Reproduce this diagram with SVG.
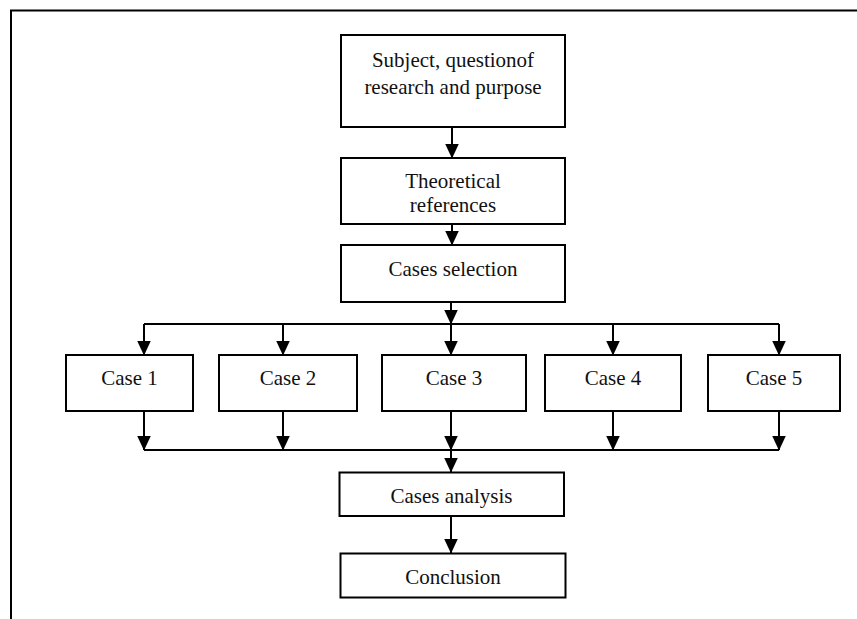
<svg xmlns="http://www.w3.org/2000/svg" width="857" height="619" viewBox="0 0 857 619">
<style>
.box{fill:#fff;stroke:#000;stroke-width:2}
.lbl{font-family:"Liberation Serif","Times New Roman",serif;font-size:21px;fill:#111;text-anchor:middle}
.ln{stroke:#000;stroke-width:2;fill:none}
.ar{stroke:#000;stroke-width:2;fill:none;marker-end:url(#ah)}
</style>
<defs>
<marker id="ah" markerUnits="userSpaceOnUse" markerWidth="15" markerHeight="14" refX="14.5" refY="7" orient="auto" viewBox="0 0 15 14">
<path d="M0,0 L15,7 L0,14 z" fill="#000"/>
</marker>
</defs>
<rect width="857" height="619" fill="#fff"/>
<g id="frame">
<path d="M857,10.5 H11 V619" stroke="#000" stroke-width="2" fill="none"/>
</g>
<g id="connectors">
<line class="ar" x1="452" y1="127" x2="452" y2="158"/>
<line class="ar" x1="452" y1="224" x2="452" y2="245"/>
<line class="ar" x1="451" y1="302" x2="451" y2="324"/>
<line class="ln" x1="144" y1="324" x2="779" y2="324"/>
<line class="ar" x1="144" y1="324" x2="144" y2="355"/>
<line class="ar" x1="283" y1="324" x2="283" y2="355"/>
<line class="ar" x1="451" y1="324" x2="451" y2="355"/>
<line class="ar" x1="613" y1="324" x2="613" y2="355"/>
<line class="ar" x1="779" y1="324" x2="779" y2="355"/>
<line class="ar" x1="144" y1="411" x2="144" y2="450"/>
<line class="ar" x1="283" y1="411" x2="283" y2="450"/>
<line class="ar" x1="451" y1="411" x2="451" y2="450"/>
<line class="ar" x1="613" y1="411" x2="613" y2="450"/>
<line class="ar" x1="779" y1="411" x2="779" y2="450"/>
<line class="ln" x1="144" y1="450" x2="779" y2="450"/>
<line class="ar" x1="451" y1="450" x2="451" y2="472"/>
<line class="ar" x1="451" y1="516" x2="451" y2="553"/>
</g>
<g id="subject">
<rect class="box" x="341" y="35" width="224" height="92"/>
<text class="lbl" x="453" y="67">Subject, questionof</text>
<text class="lbl" x="453" y="94">research and purpose</text>
</g>
<g id="theoretical">
<rect class="box" x="341" y="158" width="224" height="66"/>
<text class="lbl" x="453" y="188">Theoretical</text>
<text class="lbl" x="453" y="212">references</text>
</g>
<g id="selection">
<rect class="box" x="341" y="245" width="224" height="57"/>
<text class="lbl" x="453" y="276">Cases selection</text>
</g>
<g id="case1">
<rect class="box" x="66" y="355" width="127" height="56"/>
<text class="lbl" x="129.5" y="385">Case 1</text>
</g>
<g id="case2">
<rect class="box" x="219" y="355" width="138" height="56"/>
<text class="lbl" x="288" y="385">Case 2</text>
</g>
<g id="case3">
<rect class="box" x="382" y="355" width="144" height="56"/>
<text class="lbl" x="454" y="385">Case 3</text>
</g>
<g id="case4">
<rect class="box" x="545" y="355" width="136" height="56"/>
<text class="lbl" x="613" y="385">Case 4</text>
</g>
<g id="case5">
<rect class="box" x="708" y="355" width="132" height="56"/>
<text class="lbl" x="774" y="385">Case 5</text>
</g>
<g id="analysis">
<rect class="box" x="339.5" y="472.5" width="224.5" height="43.5"/>
<text class="lbl" x="451.5" y="503">Cases analysis</text>
</g>
<g id="conclusion">
<rect class="box" x="340.5" y="553.5" width="225" height="44"/>
<text class="lbl" x="453" y="584">Conclusion</text>
</g>
</svg>
